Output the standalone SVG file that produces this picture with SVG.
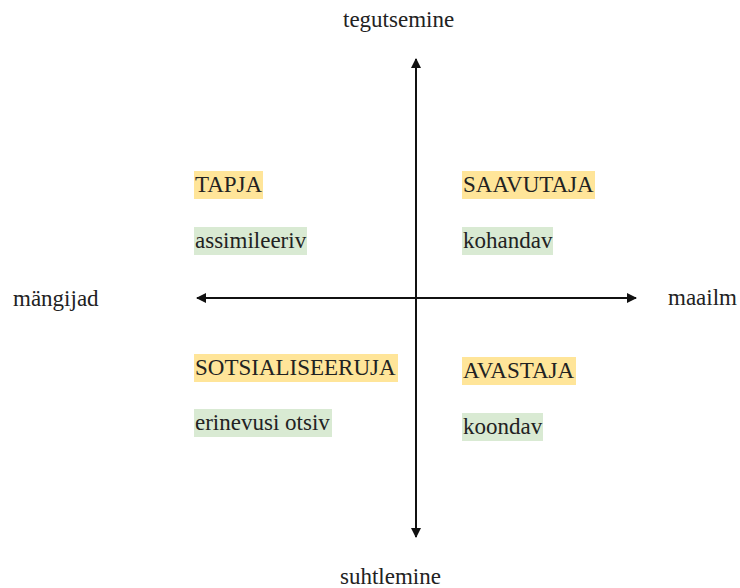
<svg xmlns="http://www.w3.org/2000/svg" width="740" height="588" viewBox="0 0 740 588">
<style>
text{font-family:"Liberation Serif","Times New Roman",serif;font-size:23px;fill:#222}
.y{fill:#ffe599}
.g{fill:#d9ead3}
.ax{stroke:#111;stroke-width:2;fill:none}
</style>
<defs>
<marker id="ah" viewBox="0 0 10 10" refX="9" refY="5" markerWidth="5" markerHeight="5" orient="auto" markerUnits="strokeWidth">
<path d="M0,0 L10,5 L0,10 z" fill="#111"/>
</marker>
</defs>
<rect width="740" height="588" fill="#fff"/>
<g id="connectors">
<line class="ax" x1="416" y1="298" x2="416" y2="59" marker-end="url(#ah)"/>
<line class="ax" x1="416" y1="298" x2="416" y2="537" marker-end="url(#ah)"/>
<line class="ax" x1="416" y1="298" x2="197" y2="298" marker-end="url(#ah)"/>
<line class="ax" x1="416" y1="298" x2="636" y2="298" marker-end="url(#ah)"/>
</g>
<g id="label-top"><text x="343" y="27">tegutsemine</text></g>
<g id="label-bottom"><text x="340" y="584">suhtlemine</text></g>
<g id="label-left"><text x="13" y="306">mängijad</text></g>
<g id="label-right"><text x="668" y="305">maailm</text></g>
<g id="tapja"><rect class="y" x="194" y="171" width="69" height="28"/><text x="195" y="192">TAPJA</text></g>
<g id="assimileeriv"><rect class="g" x="194" y="227" width="113" height="28"/><text x="195" y="248">assimileeriv</text></g>
<g id="saavutaja"><rect class="y" x="462" y="171" width="133" height="28"/><text x="463" y="192">SAAVUTAJA</text></g>
<g id="kohandav"><rect class="g" x="462" y="227" width="91" height="28"/><text x="463" y="248">kohandav</text></g>
<g id="sotsialiseeruja"><rect class="y" x="194" y="354" width="204" height="28"/><text x="195" y="375">SOTSIALISEERUJA</text></g>
<g id="erinevusi"><rect class="g" x="194" y="409" width="138" height="28"/><text x="195" y="430">erinevusi otsiv</text></g>
<g id="avastaja"><rect class="y" x="462" y="357" width="114" height="28"/><text x="463" y="378">AVASTAJA</text></g>
<g id="koondav"><rect class="g" x="462" y="413" width="81" height="28"/><text x="463" y="434">koondav</text></g>
</svg>
